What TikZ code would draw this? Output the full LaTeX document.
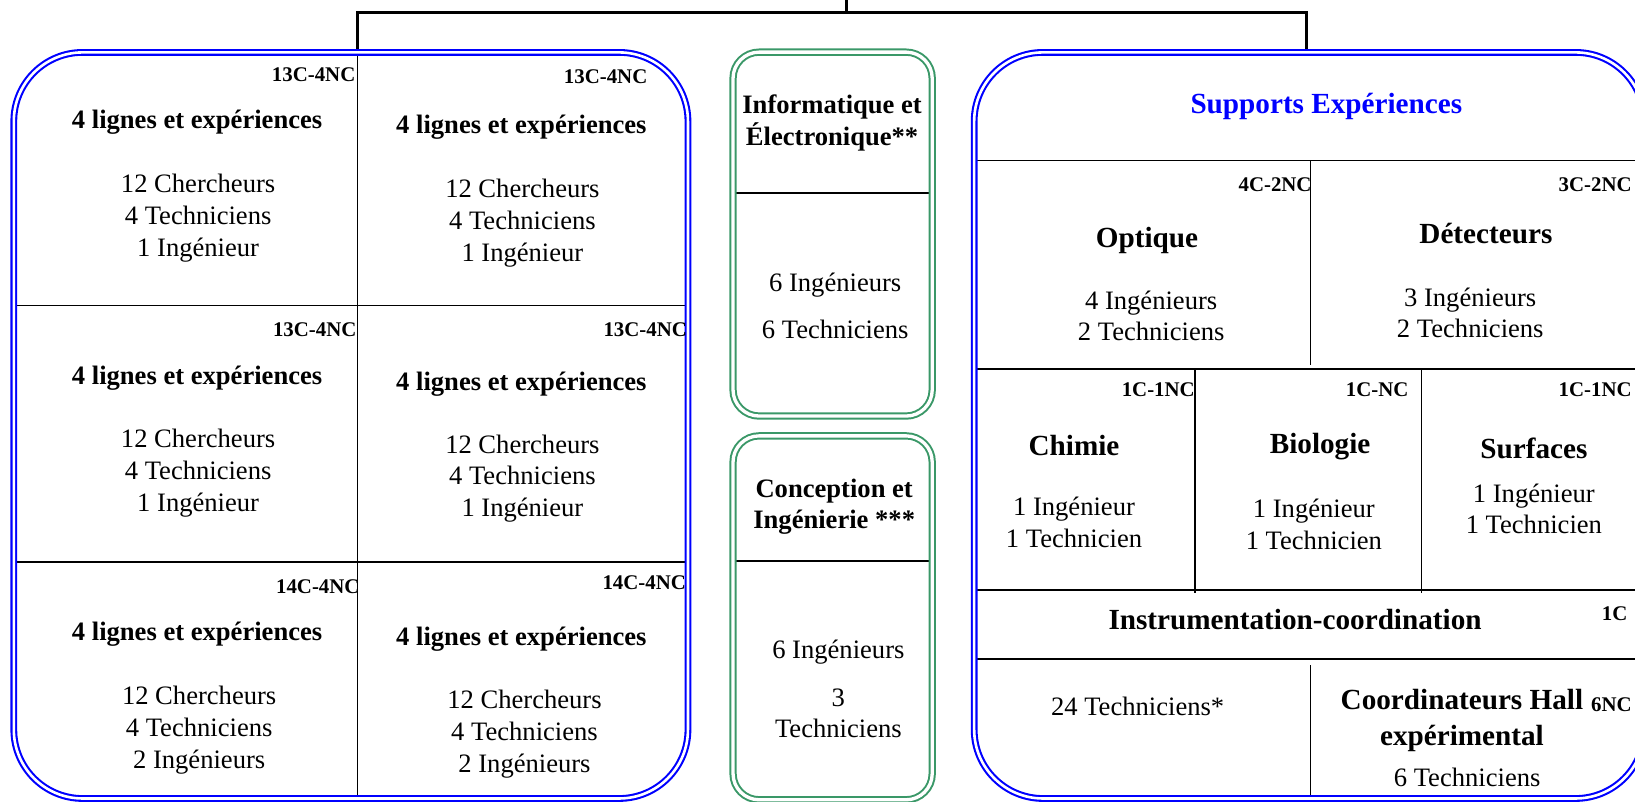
\documentclass[tikz,border=0pt]{standalone}
\usepackage{fontspec}
\setmainfont{Liberation Serif}
\usepackage{xcolor}
\usepackage{tikz}
\definecolor{unitgreen}{RGB}{58,152,104}

\begin{document}
\begin{tikzpicture}[x=1pt, y=-1pt,
  busline/.style={line width=3.2pt},
  gridline/.style={line width=1.4pt},
  bluebox/.style={draw=blue, line width=2pt, double=white, double distance=2.5pt, rounded corners=66pt},
  greenbox/.style={draw=unitgreen, line width=1.9pt, double=white, double distance=3.2pt, rounded corners=25pt},
  codetag/.style={inner sep=0pt, anchor=east, font=\bfseries\fontsize{20}{22}\selectfont},
  cellhead/.style={inner sep=0pt, align=center, font=\bfseries\fontsize{25.5}{30}\selectfont},
  unithead/.style={inner sep=0pt, align=center, font=\bfseries\fontsize{28}{35}\selectfont},
  stafflist/.style={inner sep=0pt, align=center, font=\fontsize{25.5}{30.5}\selectfont}]
\useasboundingbox (0,0) rectangle (1568,769);
\clip (0,0) rectangle (1568,769);
\coordinate (Root) at (812,0);
\coordinate (Bus) at (812,12);
\coordinate (LeftDrop) at (343,50);
\coordinate (RightDrop) at (1253,50);
\draw[busline] (Root) -- (Bus);
\draw[busline] (LeftDrop) |- (Bus) -| (RightDrop);
\draw[gridline] (343,50) -- (343,766);
\draw[gridline] (13,293) -- (660,293);
\draw[gridline] (13,539) -- (660,539);
\draw[gridline] (703,185) -- (894,185);
\draw[gridline] (703,538) -- (894,538);
\draw[gridline] (934,154) -- (1578,154);
\draw[gridline] (1257,154) -- (1257,350);
\draw[gridline] (934,354) -- (1578,354);
\draw[gridline] (1146,354) -- (1146,569);
\draw[gridline] (1363,354) -- (1363,569);
\draw[gridline] (934,566) -- (1578,566);
\draw[gridline] (934,632) -- (1578,632);
\draw[gridline] (1257,638) -- (1257,766);
\draw[bluebox] (13.25,50.25) rectangle (659.75,765.75);
\draw[bluebox] (934.25,50.25) rectangle (1577,765.75);
\draw[greenbox] (703,50) rectangle (894,399);
\draw[greenbox] (703,418) rectangle (894,767);
\node[codetag] (TagA1) at (341,72) {13C-4NC};
\node[cellhead] (HeadA1) at (189,117) {4 lignes et expériences};
\node[stafflist] (StaffA1) at (190,209) {12 Chercheurs\\4 Techniciens\\1 Ingénieur};
\node[codetag] (TagB1) at (621,74) {13C-4NC};
\node[cellhead] (HeadB1) at (500,122) {4 lignes et expériences};
\node[stafflist] (StaffB1) at (501,214) {12 Chercheurs\\4 Techniciens\\1 Ingénieur};
\node[codetag] (TagA2) at (342,316) {13C-4NC};
\node[cellhead] (HeadA2) at (189,363) {4 lignes et expériences};
\node[stafflist] (StaffA2) at (190,454) {12 Chercheurs\\4 Techniciens\\1 Ingénieur};
\node[codetag] (TagB2) at (659,316) {13C-4NC};
\node[cellhead] (HeadB2) at (500,368) {4 lignes et expériences};
\node[stafflist] (StaffB2) at (501,459) {12 Chercheurs\\4 Techniciens\\1 Ingénieur};
\node[codetag] (TagA3) at (345,563) {14C-4NC};
\node[cellhead] (HeadA3) at (189,608) {4 lignes et expériences};
\node[stafflist] (StaffA3) at (191,700) {12 Chercheurs\\4 Techniciens\\2 Ingénieurs};
\node[codetag] (TagB3) at (658,559) {14C-4NC};
\node[cellhead] (HeadB3) at (500,613) {4 lignes et expériences};
\node[stafflist] (StaffB3) at (503,704) {12 Chercheurs\\4 Techniciens\\2 Ingénieurs};
\node[cellhead] (HeadInfo) at (798,118) {Informatique et\\Électronique**};
\node[stafflist] (StaffInfo) at (801,293) {6 Ingénieurs\\[14.5pt]6 Techniciens};
\node[cellhead] (HeadConc) at (800,486) {Conception et\\Ingénierie ***};
\node[stafflist] (StaffConc) at (804,661) {6 Ingénieurs\\[15pt]3\\Techniciens};
\node[unithead, text=blue] (Title) at (1272,102) {Supports Expériences};
\node[codetag] (TagOpt) at (1258,177) {4C-2NC};
\node[unithead] (HeadOpt) at (1100,231) {Optique};
\node[stafflist] (StaffOpt) at (1104,303) {4 Ingénieurs\\2 Techniciens};
\node[codetag] (TagDet) at (1565,177) {3C-2NC};
\node[unithead] (HeadDet) at (1425,224) {Détecteurs};
\node[stafflist] (StaffDet) at (1410,300) {3 Ingénieurs\\2 Techniciens};
\node[codetag] (TagChi) at (1146,374) {1C-1NC};
\node[unithead] (HeadChi) at (1030,427) {Chimie};
\node[stafflist] (StaffChi) at (1030,501) {1 Ingénieur\\1 Technicien};
\node[codetag] (TagBio) at (1351,374) {1C-NC};
\node[unithead] (HeadBio) at (1266,428) {Biologie};
\node[stafflist] (StaffBio) at (1260,503) {1 Ingénieur\\1 Technicien};
\node[codetag] (TagSurf) at (1565,374) {1C-1NC};
\node[unithead] (HeadSurf) at (1471,430) {Surfaces};
\node[stafflist] (StaffSurf) at (1471,488) {1 Ingénieur\\1 Technicien};
\node[unithead] (HeadInstr) at (1242,594) {Instrumentation-coordination};
\node[codetag, anchor=west] (TagInstr) at (1536,589) {1C};
\node[stafflist] (StaffPool) at (1091,677) {24 Techniciens*};
\node[unithead] (HeadHall) at (1402,691) {Coordinateurs Hall\\expérimental};
\node[codetag] (TagHall) at (1565,676) {6NC};
\node[stafflist] (StaffHall) at (1407,746) {6 Techniciens};
\end{tikzpicture}
\end{document}
